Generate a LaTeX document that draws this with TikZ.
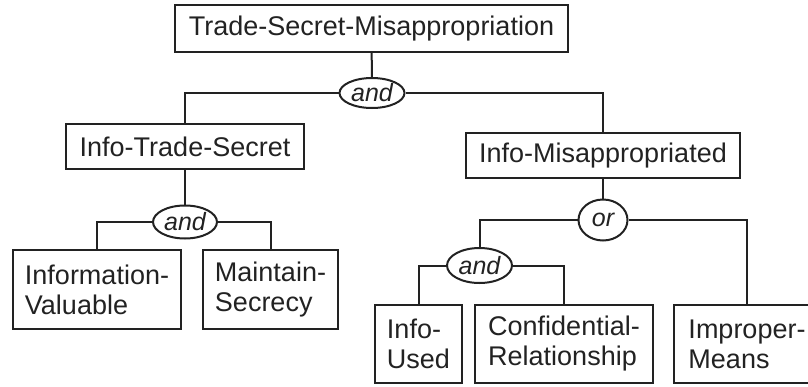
\documentclass[tikz,border=0pt]{standalone}
\usepackage{fontspec}
\setmainfont{Liberation Sans}
\usetikzlibrary{shapes.geometric}
\definecolor{ink}{HTML}{222222}
\tikzset{
  box/.style={draw=ink, line width=1pt, rectangle, inner sep=0pt, align=left,
    font=\fontsize{13.5}{15}\selectfont, text=ink},
  gate/.style={draw=ink, line width=1pt, ellipse, inner sep=0pt,
    font=\fontsize{12.5}{14}\selectfont\itshape, text=ink},
  link/.style={draw=ink, line width=1pt}
}
\begin{document}
\begin{tikzpicture}[x=0.5pt,y=-0.5pt]
\useasboundingbox (0,0) rectangle (808,386);
\clip (0,0) rectangle (808,386);
% boxes
\node[box, minimum width=196.5pt, minimum height=23.5pt] (top) at (371.5,28.5) {Trade-Secret-Misappropriation};
\node[box, minimum width=119pt, minimum height=22.5pt] (its) at (185,146.5) {Info-Trade-Secret};
\node[box, minimum width=137pt, minimum height=22.5pt] (im) at (603,155.5) {Info-Misappropriated};
\node[box, minimum width=84pt, minimum height=39.5pt] (iv) at (97,289.5) {Information-\\Valuable};
\node[box, minimum width=67.5pt, minimum height=39.5pt] (ms) at (270.5,289.5) {Maintain-\\Secrecy};
\node[box, minimum width=43.5pt, minimum height=39pt] (iu) at (418.5,344) {Info-\\Used};
\node[box, minimum width=89pt, minimum height=39pt] (cr) at (564,344) {Confidential-\\Relationship};
\node[box, minimum width=73pt, minimum height=39pt] (imp) at (747,344) {Improper-\\Means};
% gates
\node[gate, minimum width=32.5pt, minimum height=15pt] (g1) at (372,93) {and};
\node[gate, minimum width=32pt, minimum height=16.5pt] (g2) at (185,222) {and};
\node[gate, minimum width=24.5pt, minimum height=20.5pt] (g3) at (603,220) {or};
\node[gate, minimum width=32.5pt, minimum height=17.5pt] (g4) at (479.5,265.5) {and};
% connectors
\draw[link] (top) -- (g1);
\draw[link] (g1.west) -| (its.north);
\draw[link] (g1.east) -| (im.north);
\draw[link] (its) -- (g2);
\draw[link] (g2.west) -| (iv.north);
\draw[link] (g2.east) -| (ms.north);
\draw[link] (im) -- (g3);
\draw[link] (g3.west) -| (g4.north);
\draw[link] (g3.east) -| (imp.north);
\draw[link] (g4.west) -| (iu.north);
\draw[link] (g4.east) -| (cr.north);
\end{tikzpicture}
\end{document}
